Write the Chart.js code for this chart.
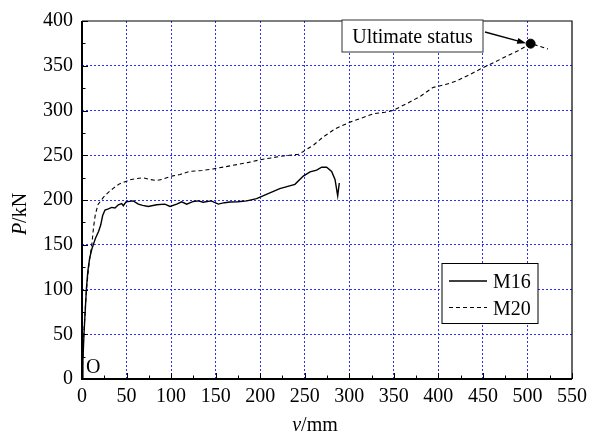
<!DOCTYPE html>
<html>
<head>
<meta charset="utf-8">
<script src="https://cdn.jsdelivr.net/npm/chart.js@4/dist/chart.umd.min.js"></script>
<style>
  html, body { margin: 0; padding: 0; background: #fff; }
  #wrap { width: 593px; height: 434px; position: relative; }
</style>
</head>
<body>
<div id="wrap"><canvas id="pvChart"></canvas></div>
<script>
// M16 curve (v in mm, P in kN)
const vM16 = [0, 1, 2.2, 4.9, 6.5, 8.6, 11, 13, 15, 18.7, 21, 23.2, 25.8, 29.6, 33.3, 37, 40.8, 44.5, 46.4, 49.4,
  57.6, 63.2, 68, 74.4, 83.8, 93, 98.8, 106.3, 111.9, 117.5, 125, 130.5, 136, 145, 153, 160, 166, 175, 185,
  196, 207, 222, 239, 248.4, 256, 263.4, 269, 274.6, 280.2, 284, 287, 288.8];
const pM16 = [0, 20, 50, 100, 120, 135, 145, 151, 157, 165, 172, 182.6, 188.8, 190, 191.7, 191, 194.7, 196, 193.6, 198,
  199, 195.4, 194, 192.8, 194.7, 195.4, 192.8, 195.4, 198, 195.4, 198.4, 199, 197.5, 199, 195.4, 197, 197.8, 198, 199,
  201.6, 206.4, 212.7, 217.5, 226.7, 231.4, 233.3, 236.6, 236.6, 232, 223, 204.6, 219];

// M20 curve
const vM20 = [0, 2, 5, 8, 11, 13, 15, 18, 24, 29, 35, 42, 50, 55.3, 62, 68.8, 76, 83.8, 90, 100.6, 110, 121, 135,
  147, 160, 173.6, 187, 200, 212, 222, 233, 243, 248, 260, 271, 285, 300.8, 315, 327, 340, 349, 364, 380, 394,
  408, 420.5, 435, 450, 463, 476.6, 490, 503.6, 513, 523];
const pM20 = [0, 50, 100, 130, 150, 170, 184, 195, 203, 208, 213, 218, 221, 223, 224, 224.8, 223, 221.8, 223, 226.7,
  228.5, 232, 233, 234.7, 237, 239.5, 242, 245, 247, 248.7, 250, 251.2, 254, 261.5, 270.7, 280, 287, 292, 296.4,
  298, 300, 307.4, 316, 325.8, 329, 333, 340, 347.9, 354, 360.7, 367, 374.7, 372, 368.8];

// ultimate status point
const ultV = 503.6;
const ultP = 374.7;

const xMax = 550, xStep = 50;
const yMax = 400, yStep = 50;
const seriesNames = ['M16', 'M20'];

const serif = "'Liberation Serif', 'Times New Roman', serif";
const gridBlue = 'rgb(45, 45, 255)';

Chart.defaults.font.family = serif;
Chart.defaults.font.size = 20;
Chart.defaults.color = '#000';

const toPts = (xs, ys) => xs.map((v, i) => ({ x: v, y: ys[i] }));

// frame, inward ticks, axis titles, legend and the annotation
const decor = {
    id: 'decor',
    afterDraw(chart) {
        const ctx = chart.ctx;
        const a = chart.chartArea;
        const xs = chart.scales.x, ys = chart.scales.y;
        ctx.save();

        // ticks pointing inside
        ctx.strokeStyle = '#000';
        ctx.lineWidth = 1;
        for (let v = 0; v <= xMax; v += xStep / 2) {
            const px = Math.round(xs.getPixelForValue(v)) + 0.5;
            const len = v % xStep === 0 ? 6 : 3.5;
            ctx.beginPath(); ctx.moveTo(px, a.bottom); ctx.lineTo(px, a.bottom - len); ctx.stroke();
        }
        for (let v = 0; v <= yMax; v += yStep / 2) {
            const py = Math.round(ys.getPixelForValue(v)) + 0.5;
            const len = v % yStep === 0 ? 6 : 3.5;
            ctx.beginPath(); ctx.moveTo(a.left, py); ctx.lineTo(a.left + len, py); ctx.stroke();
        }

        // frame
        ctx.lineWidth = 1.2;
        ctx.beginPath();
        ctx.moveTo(a.left, a.top); ctx.lineTo(a.right, a.top); ctx.lineTo(a.right, a.bottom);
        ctx.stroke();
        ctx.lineWidth = 2;
        ctx.beginPath();
        ctx.moveTo(a.left, a.top); ctx.lineTo(a.left, a.bottom); ctx.lineTo(a.right, a.bottom);
        ctx.stroke();

        ctx.fillStyle = '#000';
        ctx.textBaseline = 'alphabetic';
        ctx.textAlign = 'left';

        // x title: v/mm
        ctx.font = 'italic 20px ' + serif;
        const wv = ctx.measureText('v').width;
        ctx.font = '20px ' + serif;
        const wmm = ctx.measureText('/mm').width;
        let sx = 315 - (wv + wmm) / 2;
        ctx.font = 'italic 20px ' + serif;
        ctx.fillText('v', sx, 431);
        ctx.font = '20px ' + serif;
        ctx.fillText('/mm', sx + wv, 431);

        // y title: P/kN
        ctx.save();
        ctx.translate(25.5, 214);
        ctx.rotate(-Math.PI / 2);
        ctx.font = 'italic 20px ' + serif;
        const wp = ctx.measureText('P').width;
        ctx.font = '20px ' + serif;
        const wkn = ctx.measureText('/kN').width;
        sx = -(wp + wkn) / 2;
        ctx.font = 'italic 20px ' + serif;
        ctx.fillText('P', sx, 0);
        ctx.font = '20px ' + serif;
        ctx.fillText('/kN', sx + wp, 0);
        ctx.restore();

        // origin mark
        ctx.font = '20px ' + serif;
        ctx.fillText('O', 86, 373);

        // legend
        ctx.fillStyle = '#fff';
        ctx.fillRect(442, 263.5, 96, 60);
        ctx.lineWidth = 1;
        ctx.strokeStyle = '#000';
        ctx.strokeRect(442, 263.5, 96, 60);
        const rows = [281, 307.5];
        chart.data.datasets.slice(0, 2).forEach((ds, i) => {
            ctx.save();
            ctx.lineWidth = ds.borderWidth;
            ctx.setLineDash(ds.borderDash || []);
            ctx.beginPath(); ctx.moveTo(449, rows[i]); ctx.lineTo(487, rows[i]); ctx.stroke();
            ctx.restore();
            ctx.fillStyle = '#000';
            ctx.fillText(seriesNames[i], 493, rows[i] + 7);
        });

        // annotation box
        ctx.fillStyle = '#fff';
        ctx.fillRect(342, 20, 141, 32);
        ctx.strokeStyle = '#333';
        ctx.strokeRect(342, 20, 141, 32);
        ctx.fillStyle = '#000';
        ctx.textAlign = 'center';
        ctx.fillText('Ultimate status', 412.5, 43);

        // arrow to the ultimate point
        const tx = xs.getPixelForValue(ultV) - 4.5;
        const ty = ys.getPixelForValue(ultP) - 0.5;
        const fx = 485, fy = 32;
        const ang = Math.atan2(ty - fy, tx - fx);
        ctx.strokeStyle = '#000';
        ctx.lineWidth = 1.3;
        ctx.beginPath(); ctx.moveTo(fx, fy); ctx.lineTo(tx - 7 * Math.cos(ang), ty - 7 * Math.sin(ang)); ctx.stroke();
        ctx.beginPath();
        ctx.moveTo(tx, ty);
        ctx.lineTo(tx - 9 * Math.cos(ang) + 3 * Math.sin(ang), ty - 9 * Math.sin(ang) - 3 * Math.cos(ang));
        ctx.lineTo(tx - 9 * Math.cos(ang) - 3 * Math.sin(ang), ty - 9 * Math.sin(ang) + 3 * Math.cos(ang));
        ctx.closePath();
        ctx.fill();

        ctx.restore();
    }
};

const gridColor = (max) => (c) => (c.tick && (c.tick.value === 0 || c.tick.value === max)) ? 'rgba(0,0,0,0)' : gridBlue;

new Chart(document.getElementById('pvChart'), {
    type: 'scatter',
    data: {
        datasets: [{
            label: seriesNames[0],
            data: toPts(vM16, pM16),
            showLine: true,
            borderColor: '#000',
            borderWidth: 1.4,
            pointRadius: 0,
            tension: 0
        }, {
            label: seriesNames[1],
            data: toPts(vM20, pM20),
            showLine: true,
            borderColor: '#000',
            borderWidth: 1.1,
            borderDash: [4, 3],
            pointRadius: 0,
            tension: 0
        }, {
            label: 'Ultimate status',
            data: [{ x: ultV, y: ultP }],
            pointRadius: 4.5,
            pointBackgroundColor: '#000',
            pointBorderColor: '#000',
            showLine: false
        }]
    },
    options: {
        responsive: true,
        maintainAspectRatio: false,
        animation: false,
        events: [],
        layout: { padding: { top: 16, right: 21, left: 0, bottom: 0 } },
        plugins: {
            legend: { display: false },
            tooltip: { enabled: false }
        },
        scales: {
            x: {
                type: 'linear',
                min: 0,
                max: xMax,
                afterFit: (s) => { s.height = 55; },
                border: { display: false, dash: [2, 2] },
                grid: { color: gridColor(xMax), lineWidth: 1, drawTicks: false },
                ticks: {
                    stepSize: xStep,
                    padding: 6,
                    color: '#000',
                    maxRotation: 0,
                    font: { family: serif, size: 20 }
                }
            },
            y: {
                type: 'linear',
                min: 0,
                max: yMax,
                afterFit: (s) => { s.width = 82; },
                border: { display: false, dash: [2, 2] },
                grid: { color: gridColor(yMax), lineWidth: 1, drawTicks: false },
                ticks: {
                    stepSize: yStep,
                    padding: 9,
                    color: '#000',
                    font: { family: serif, size: 20 }
                }
            }
        }
    },
    plugins: [decor]
});
</script>
</body>
</html>
